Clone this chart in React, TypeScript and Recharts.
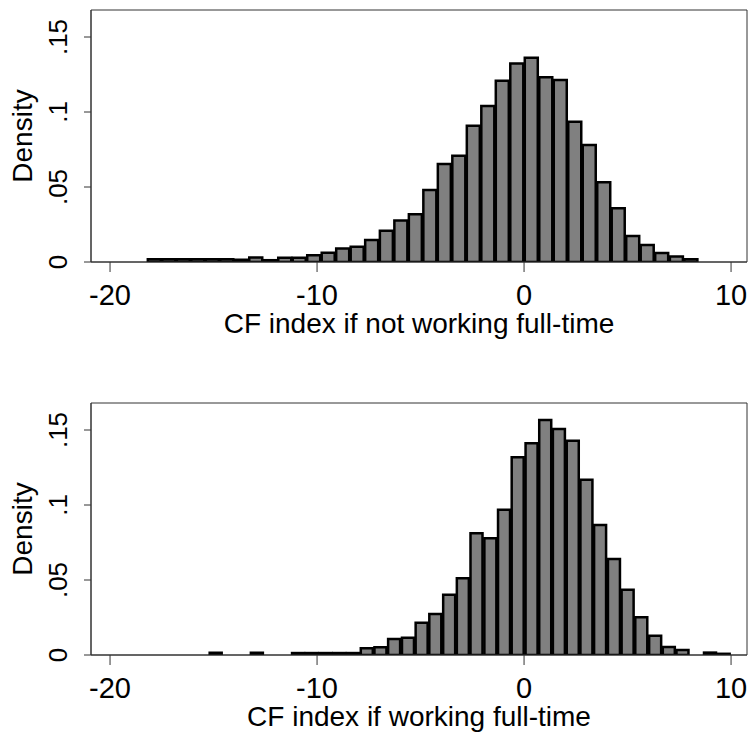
import { BarChart, Bar, XAxis, YAxis, ReferenceArea, Label } from "recharts";

// bin midpoints (CF index) and densities
const notFullTimeBins = [
  -17.86, -17.16, -16.46, -15.76, -15.06, -14.36, -13.66, -12.96, -12.26, -11.56,
  -10.86, -10.16, -9.46, -8.76, -8.06, -7.36, -6.65, -5.95, -5.25, -4.55,
  -3.85, -3.15, -2.45, -1.75, -1.05, -0.35, 0.35, 1.05, 1.75, 2.45,
  3.15, 3.85, 4.55, 5.25, 5.95, 6.65, 7.36, 8.06,
];
const notFullTimeDensity = [
  0.0018, 0.0018, 0.0018, 0.0018, 0.0018, 0.0018, 0.0015, 0.003, 0.0012, 0.0029,
  0.0029, 0.0045, 0.0062, 0.009, 0.0102, 0.0147, 0.0209, 0.0276, 0.0318, 0.048,
  0.0653, 0.0709, 0.0909, 0.104, 0.1209, 0.1324, 0.1362, 0.1231, 0.1213, 0.0935,
  0.078, 0.0531, 0.0358, 0.0173, 0.0113, 0.006, 0.0036, 0.0019,
];

const fullTimeBins = [
  -14.89, -14.23, -13.56, -12.9, -12.24, -11.57, -10.91, -10.25, -9.58, -8.92,
  -8.26, -7.59, -6.93, -6.27, -5.6, -4.94, -4.28, -3.61, -2.95, -2.29,
  -1.62, -0.96, -0.3, 0.37, 1.03, 1.69, 2.36, 3.02, 3.68, 4.35,
  5.01, 5.67, 6.34, 7.0, 7.66, 8.33, 8.99, 9.65,
];
const fullTimeDensity = [
  0.0015, 0, 0, 0.0015, 0, 0, 0.0013, 0.0013, 0.0013, 0.0013,
  0.0013, 0.0045, 0.0051, 0.0107, 0.0115, 0.0215, 0.0273, 0.0402, 0.0511, 0.0811,
  0.0778, 0.0969, 0.1318, 0.1411, 0.1567, 0.1507, 0.1429, 0.1169, 0.0867, 0.064,
  0.0435, 0.0251, 0.0129, 0.0053, 0.0034, 0, 0.0016, 0.0008,
];

const xTicks = [-20, -10, 0, 10];
const yTicks = [0, 0.05, 0.1, 0.15];
const yTickLabels = ["0", ".05", ".1", ".15"];

const X_DOMAIN: [number, number] = [-20.92, 10.77];
const Y_DOMAIN: [number, number] = [0, 0.168];
const FONT = "'Liberation Sans', Arial, sans-serif";
const AXIS_COLOR = "#333";

function YTick(props: any) {
  const { x, y, payload } = props;
  const i = yTicks.indexOf(payload.value);
  const bx = x - 15;
  return (
    <text
      x={bx}
      y={y}
      transform={`rotate(-90, ${bx}, ${y})`}
      textAnchor="middle"
      fontSize={26}
      fontFamily={FONT}
      fill="#000"
    >
      {yTickLabels[i]}
    </text>
  );
}

function Histogram({ bins, density, title }: { bins: number[]; density: number[]; title: string }) {
  const rows = bins.map((x, i) => ({ x, density: density[i] }));
  return (
    <BarChart
      width={751}
      height={340}
      data={rows}
      margin={{ top: 10, right: 4, bottom: 0, left: 0 }}
      barCategoryGap="5%"
      barGap={0}
    >
      <XAxis
        type="number"
        dataKey="x"
        domain={X_DOMAIN}
        allowDataOverflow
        ticks={xTicks}
        interval={0}
        height={78}
        tickSize={10}
        tickMargin={12}
        axisLine={{ stroke: AXIS_COLOR }}
        tickLine={{ stroke: AXIS_COLOR }}
        tick={{ fontSize: 29, fill: "#000", fontFamily: FONT }}
      >
        <Label
          content={({ viewBox }: any) => (
            <text
              x={viewBox.x + viewBox.width / 2}
              y={viewBox.y + 71}
              textAnchor="middle"
              fontSize={28}
              fontFamily={FONT}
              fill="#000"
            >
              {title}
            </text>
          )}
        />
      </XAxis>
      <YAxis
        type="number"
        domain={Y_DOMAIN}
        allowDataOverflow
        ticks={yTicks}
        interval={0}
        width={91}
        tickSize={7}
        axisLine={{ stroke: AXIS_COLOR }}
        tickLine={{ stroke: AXIS_COLOR }}
        tick={<YTick />}
      >
        <Label
          content={({ viewBox }: any) => {
            const cx = 32;
            const cy = viewBox.y + viewBox.height / 2;
            return (
              <text
                x={cx}
                y={cy}
                transform={`rotate(-90, ${cx}, ${cy})`}
                textAnchor="middle"
                fontSize={28}
                fontFamily={FONT}
                fill="#000"
              >
                Density
              </text>
            );
          }}
        />
      </YAxis>
      <Bar
        dataKey="density"
        fill="#808080"
        stroke="#000"
        strokeWidth={2.5}
        isAnimationActive={false}
      />
      <ReferenceArea
        x1={X_DOMAIN[0]}
        x2={X_DOMAIN[1]}
        y1={Y_DOMAIN[0]}
        y2={Y_DOMAIN[1]}
        fill="none"
        stroke={AXIS_COLOR}
        strokeWidth={1}
      />
    </BarChart>
  );
}

export default function App() {
  return (
    <div style={{ position: "absolute", left: 0, top: 0, width: 751, height: 736, background: "#fff" }}>
      <div style={{ position: "absolute", left: 0, top: 0 }}>
        <Histogram bins={notFullTimeBins} density={notFullTimeDensity} title="CF index if not working full-time" />
      </div>
      <div style={{ position: "absolute", left: 0, top: 393 }}>
        <Histogram bins={fullTimeBins} density={fullTimeDensity} title="CF index if working full-time" />
      </div>
    </div>
  );
}
